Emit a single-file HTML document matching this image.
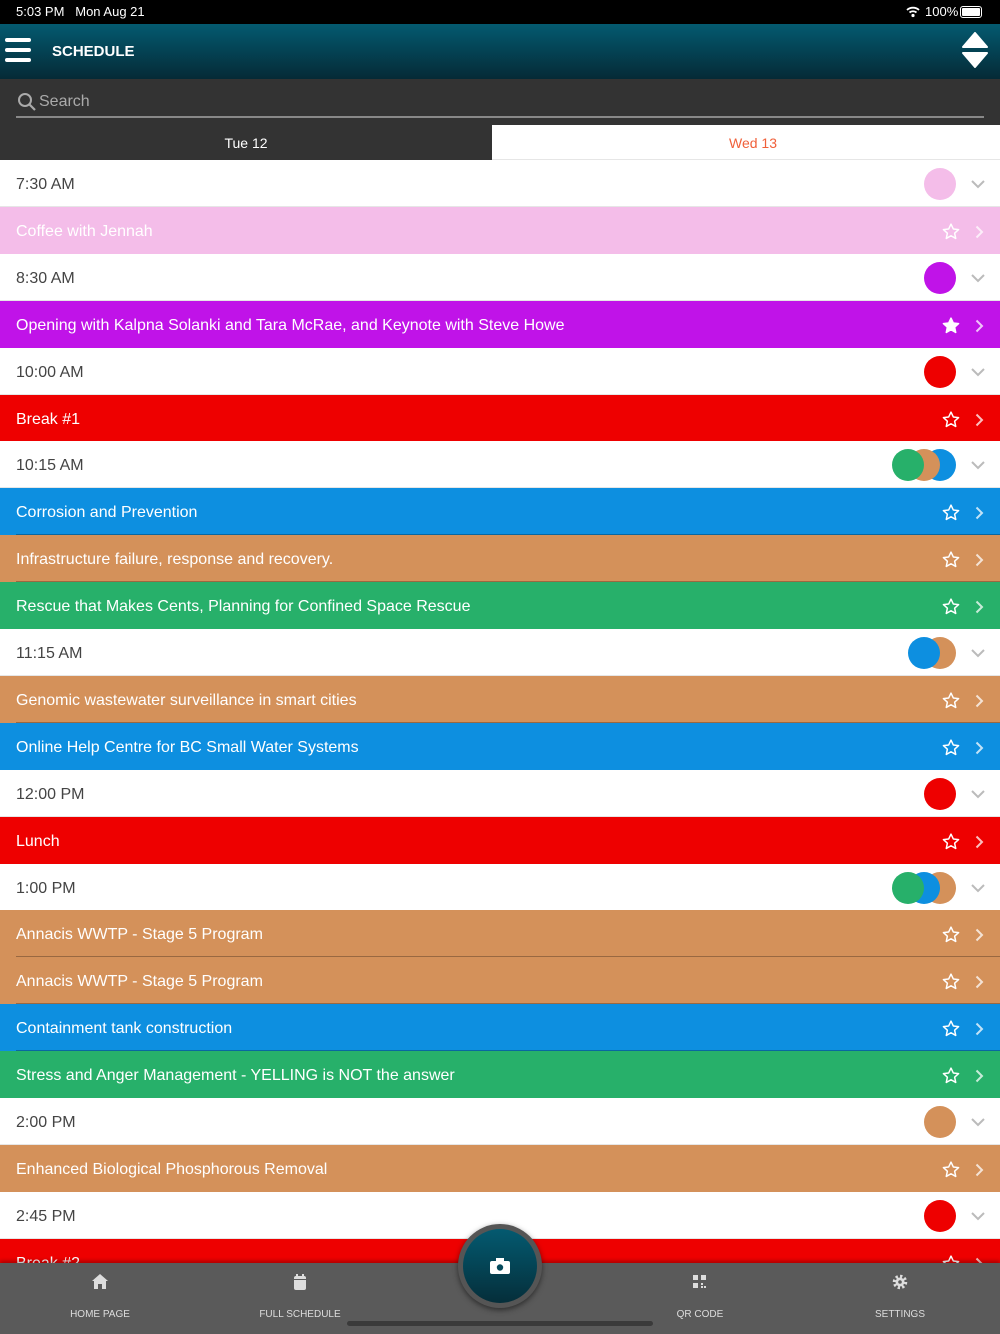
<!DOCTYPE html>
<html><head><meta charset="utf-8"><style>
*{margin:0;padding:0;box-sizing:border-box}
body{width:1000px;height:1334px;overflow:hidden;background:#fff;font-family:"Liberation Sans",sans-serif;position:relative}
.abs{position:absolute}
.row{position:absolute;left:0;width:1000px;height:47px;font-size:16px;line-height:50px;padding-left:16px}
.time{background:#fff;color:#444;border-bottom:1px solid #e6e6e6}
.ev{color:#fff}
.sep{position:absolute;left:16px;right:0;bottom:0;height:1px;background:rgba(0,0,0,.28)}
.c{position:absolute;width:32px;height:32px;border-radius:50%;top:8px}
</style></head><body>
<div class="abs" style="left:0;top:0;width:1000px;height:24px;background:#000;color:#fff;font-size:13px;line-height:24px">
<span class="abs" style="left:16px">5:03 PM&nbsp;&nbsp;&nbsp;Mon Aug 21</span>
<span class="abs" style="left:925px">100%</span>
<svg class="abs" style="left:906px;top:6px" width="14" height="12" viewBox="0 0 14 12"><path d="M1 4a9 9 0 0 1 12 0M3.5 6.5a5.5 5.5 0 0 1 7 0" stroke="#fff" stroke-width="1.8" fill="none"/><circle cx="7" cy="9.5" r="1.6" fill="#fff"/></svg>
<div class="abs" style="left:960px;top:6px;width:22px;height:12px;border:1px solid #fff;border-radius:3px;padding:1px"><div style="width:100%;height:100%;background:#fff;border-radius:1px"></div></div>
</div>
<div class="abs" style="left:0;top:24px;width:1000px;height:55px;background:linear-gradient(#045a70,#052a36)">
<div class="abs" style="left:5px;top:14px;width:26px;height:4px;background:#fff;border-radius:2px"></div>
<div class="abs" style="left:5px;top:24px;width:26px;height:4px;background:#fff;border-radius:2px"></div>
<div class="abs" style="left:5px;top:34px;width:26px;height:4px;background:#fff;border-radius:2px"></div>
<div class="abs" style="left:52px;top:19px;color:#fff;font-size:15px;font-weight:bold">SCHEDULE</div>
<svg class="abs" style="left:962px;top:8px" width="26" height="36" viewBox="0 0 26 36"><path d="M13 1L25 15H1Z M13 35L25 21H1Z" fill="#fff" stroke="#fff" stroke-linejoin="round" stroke-width="2"/></svg>
</div>
<div class="abs" style="left:0;top:79px;width:1000px;height:46px;background:#333">
<svg class="abs" style="left:17px;top:13px" width="20" height="20" viewBox="0 0 20 20"><circle cx="8" cy="8" r="6" stroke="#aaa" stroke-width="2" fill="none"/><path d="M12.5 12.5L18 18" stroke="#aaa" stroke-width="2.2"/></svg>
<div class="abs" style="left:39px;top:14px;color:#aaa;font-size:16px">Search</div>
<div class="abs" style="left:16px;top:37px;width:968px;height:2px;background:#888"></div>
</div>
<div class="abs" style="left:0;top:125px;width:492px;height:35px;background:#333;color:#fff;font-size:14px;line-height:37px;text-align:center">Tue 12</div>
<div class="abs" style="left:492px;top:125px;width:508px;height:35px;background:#fff;color:#f0603a;font-size:14px;line-height:37px;text-align:center;padding-left:14px;border-bottom:1px solid #e6e6e6">Wed 13</div>
<div id="list"></div>
<script>
var P='#f4bde9',U='#c013e8',R='#ee0000',B='#0d8fe0',T='#d4915a',G='#27b06a';
var rows=[['t','7:30 AM',[P]],['e',P,'Coffee with Jennah'],['t','8:30 AM',[U]],['e',U,'Opening with Kalpna Solanki and Tara McRae, and Keynote with Steve Howe',1],['t','10:00 AM',[R]],['e',R,'Break #1'],['t','10:15 AM',[G,T,B]],['e',B,'Corrosion and Prevention'],['e',T,'Infrastructure failure, response and recovery.'],['e',G,'Rescue that Makes Cents, Planning for Confined Space Rescue'],['t','11:15 AM',[B,T]],['e',T,'Genomic wastewater surveillance in smart cities'],['e',B,'Online Help Centre for BC Small Water Systems'],['t','12:00 PM',[R]],['e',R,'Lunch'],['t','1:00 PM',[G,B,T]],['e',T,'Annacis WWTP - Stage 5 Program'],['e',T,'Annacis WWTP - Stage 5 Program'],['e',B,'Containment tank construction'],['e',G,'Stress and Anger Management - YELLING is NOT the answer'],['t','2:00 PM',[T]],['e',T,'Enhanced Biological Phosphorous Removal'],['t','2:45 PM',[R]],['e',R,'Break #2']];
var h='';
rows.forEach(function(r,i){var top=160+46.9*i;
if(r[0]=='t'){var cs='';var n=r[2].length;for(var k=n-1;k>=0;k--){cs+='<div class="c" style="left:'+(924-16*(n-1-k))+'px;background:'+r[2][k]+'"></div>';}
h+='<div class="row time" style="top:'+top+'px">'+r[1]+cs+'<svg class="abs" style="left:971px;top:20px" width="14" height="9" viewBox="0 0 14 9"><path d="M1 1l6 6 6-6" stroke="#bbb" stroke-width="2" fill="none"/></svg></div>';}
else{var nx=rows[i+1];var sep=(nx&&nx[0]=='e')?'<div class="sep"></div>':'';
var star='<svg class="abs" style="left:942px;top:16px" width="18" height="17" viewBox="0 0 24 23"><path d="M12 1.5l3.1 6.6 7.2.8-5.4 4.9 1.5 7.1L12 17.3 5.6 20.9l1.5-7.1L1.7 8.9l7.2-.8z" fill="'+(r[3]?'#fff':'none')+'" stroke="#fff" stroke-width="2" stroke-linejoin="round"/></svg>';
h+='<div class="row ev" style="top:'+top+'px;background:'+r[1]+'">'+r[2]+star+'<svg class="abs" style="left:975px;top:18px" width="9" height="14" viewBox="0 0 9 14"><path d="M1.5 1.5l5.5 5.5-5.5 5.5" stroke="rgba(255,255,255,.75)" stroke-width="2" fill="none"/></svg>'+sep+'</div>';}
});
document.getElementById('list').innerHTML=h;
</script>
<div class="abs" style="left:0;top:1263px;width:1000px;height:71px;background:#5a5a5a;box-shadow:0 -2px 4px rgba(0,0,0,.3)">
<svg class="abs" style="left:92px;top:11px" width="16" height="15" viewBox="0 0 16 15"><path d="M8 0L16 7H14V15H10V10H6V15H2V7H0Z" fill="#ddd"/></svg>
<svg class="abs" style="left:293px;top:11px" width="14" height="16" viewBox="0 0 14 16"><rect x="1" y="2" width="12" height="14" rx="2" fill="#ddd"/><rect x="3" y="0" width="2" height="4" fill="#ddd"/><rect x="9" y="0" width="2" height="4" fill="#ddd"/><rect x="1" y="5" width="12" height="1" fill="#5a5a5a"/></svg>
<svg class="abs" style="left:693px;top:12px" width="14" height="14" viewBox="0 0 14 14" fill="#ddd"><rect x="0" y="0" width="5" height="5"/><rect x="8" y="0" width="5" height="5"/><rect x="0" y="8" width="5" height="5"/><rect x="8" y="8" width="2" height="2"/><rect x="11" y="11" width="2" height="2"/><rect x="8" y="11" width="2" height="2"/></svg>
<svg class="abs" style="left:892px;top:11px" width="16" height="16" viewBox="0 0 16 16"><circle cx="8" cy="8" r="5.5" fill="none" stroke="#ddd" stroke-width="3.5" stroke-dasharray="2.2 2.1"/><circle cx="8" cy="8" r="4.5" fill="#ddd"/><circle cx="8" cy="8" r="1.8" fill="#5a5a5a"/></svg>
<div class="abs" style="left:50px;width:100px;top:46px;text-align:center;color:#ddd;font-size:10px">HOME PAGE</div>
<div class="abs" style="left:240px;width:120px;top:46px;text-align:center;color:#ddd;font-size:10px">FULL SCHEDULE</div>
<div class="abs" style="left:650px;width:100px;top:46px;text-align:center;color:#ddd;font-size:10px">QR CODE</div>
<div class="abs" style="left:850px;width:100px;top:46px;text-align:center;color:#ddd;font-size:10px">SETTINGS</div>
<div class="abs" style="left:347px;top:58px;width:306px;height:5px;border-radius:3px;background:#3a3a3a"></div>
</div>
<div class="abs" style="left:458px;top:1224px;width:84px;height:84px;border-radius:50%;background:#555;box-shadow:0 2px 6px rgba(0,0,0,.5)">
<div class="abs" style="left:5px;top:5px;width:74px;height:74px;border-radius:50%;background:linear-gradient(#045a70,#052e3a)"></div>
<svg class="abs" style="left:32px;top:34px" width="20" height="16" viewBox="0 0 20 16"><rect x="0" y="3" width="20" height="13" rx="2" fill="#fff"/><rect x="6" y="0" width="8" height="4" fill="#fff"/><circle cx="10" cy="9.5" r="3.2" fill="#044a5c"/></svg>
</div>
</body></html>
